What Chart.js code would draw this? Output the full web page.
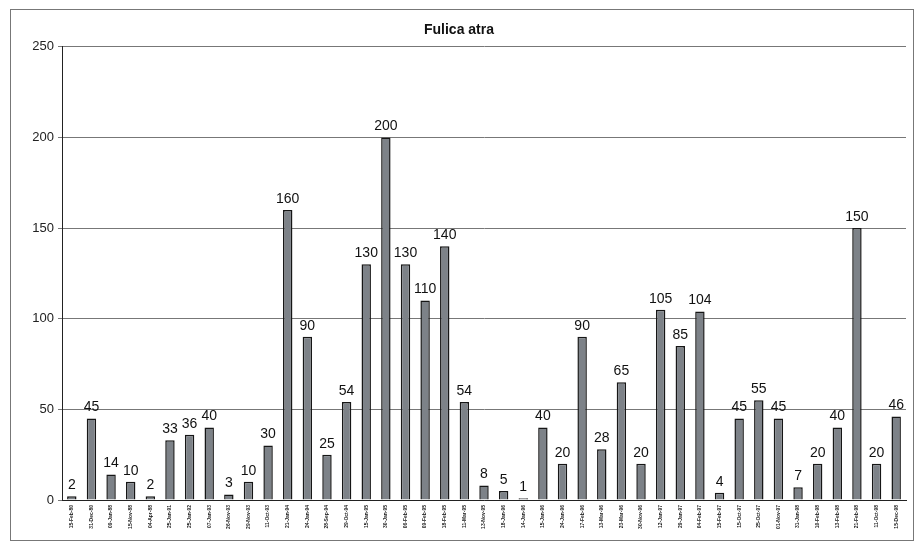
<!DOCTYPE html>
<html>
<head>
<meta charset="utf-8">
<script src="https://cdn.jsdelivr.net/npm/chart.js@4/dist/chart.umd.min.js"></script>
<style>
  html, body { margin: 0; padding: 0; background: #fff; }
  #wrap { width: 916px; height: 548px; }
</style>
</head>
<body>
<div id="wrap"><canvas id="grafico" width="916" height="548"></canvas></div>
<script>
// fechas de los censos (eje x)
var fechas = [
  '15-Feb-80', '31-Dec-80', '09-Jan-88', '15-Nov-88', '04-Apr-88', '25-Jan-91',
  '25-Jan-92', '07-Jan-93', '26-Nov-93', '29-Nov-93', '11-Oct-93', '21-Jan-94',
  '24-Jan-94', '28-Sep-94', '29-Oct-94', '15-Jan-95', '30-Jan-95', '06-Feb-95',
  '09-Feb-95', '18-Feb-95', '11-Mar-95', '13-Nov-95', '18-Jan-96', '14-Jan-96',
  '15-Jan-96', '24-Jan-96', '17-Feb-96', '13-Mar-96', '23-Mar-96', '30-Nov-96',
  '12-Jan-97', '29-Jan-97', '04-Feb-97', '15-Feb-97', '15-Oct-97', '25-Oct-97',
  '01-Nov-97', '31-Jan-98', '10-Feb-98', '13-Feb-98', '21-Feb-98', '11-Oct-98',
  '15-Dec-98'
];
// individuos contados
var individuos = [
  2, 45, 14, 10, 2, 33, 36, 40, 3, 10, 30, 160, 90, 25, 54, 130, 200, 130,
  110, 140, 54, 8, 5, 1, 40, 20, 90, 28, 65, 20, 105, 85, 104, 4, 45, 55,
  45, 7, 20, 40, 150, 20, 46
];
var ticks_y = [0, 50, 100, 150, 200, 250];

// marco exterior
var marco = {
  id: 'marco',
  beforeDraw: function (chart) {
    var c = chart.ctx;
    c.save();
    c.fillStyle = '#fff';
    c.fillRect(0, 0, chart.width, chart.height);
    c.strokeStyle = '#777';
    c.lineWidth = 1;
    c.strokeRect(10.5, 9.5, 903, 531);
    c.restore();
  }
};

// valores encima de cada barra
var etiquetas = {
  id: 'etiquetas',
  afterDatasetsDraw: function (chart) {
    var c = chart.ctx;
    var meta = chart.getDatasetMeta(0);
    c.save();
    c.font = '14px "Liberation Sans", Arial, sans-serif';
    c.fillStyle = '#111';
    c.textAlign = 'center';
    c.textBaseline = 'bottom';
    meta.data.forEach(function (bar, i) {
      c.fillText(individuos[i], bar.x, bar.y - 4);
    });
    c.restore();
  }
};

var ctx = document.getElementById('grafico').getContext('2d');
var chart = new Chart(ctx, {
  type: 'bar',
  data: {
    labels: fechas,
    datasets: [{
      data: individuos,
      backgroundColor: '#7d8288',
      borderColor: '#161616',
      borderWidth: 1.5,
      categoryPercentage: 1,
      barPercentage: 0.48
    }]
  },
  options: {
    responsive: false,
    animation: false,
    layout: { padding: { top: 12, left: 12, right: 10, bottom: 8 } },
    plugins: {
      legend: { display: false },
      tooltip: { enabled: false },
      title: {
        display: true,
        text: 'Fulica atra',
        color: '#111',
        font: { family: '"Liberation Sans", Arial, sans-serif', size: 14, weight: 'bold' },
        padding: { top: 10, bottom: 8 }
      }
    },
    scales: {
      x: {
        offset: true,
        grid: { display: false, drawTicks: true, tickLength: 3 },
        border: { color: '#222' },
        ticks: {
          autoSkip: false,
          maxRotation: 90,
          minRotation: 90,
          color: '#222',
          padding: 2,
          font: { family: '"Liberation Sans", Arial, sans-serif', size: 5, weight: 'bold' }
        },
        afterFit: function (scale) { scale.height = 40; }
      },
      y: {
        min: 0,
        max: 250,
        afterBuildTicks: function (scale) {
          scale.ticks = ticks_y.map(function (v) { return { value: v }; });
        },
        grid: { color: '#777', tickLength: 4 },
        border: { color: '#222' },
        ticks: {
          color: '#222',
          padding: 4,
          font: { family: '"Liberation Sans", Arial, sans-serif', size: 13 }
        },
        afterFit: function (scale) { scale.width = 50; }
      }
    }
  },
  plugins: [marco, etiquetas]
});
</script>
</body>
</html>
